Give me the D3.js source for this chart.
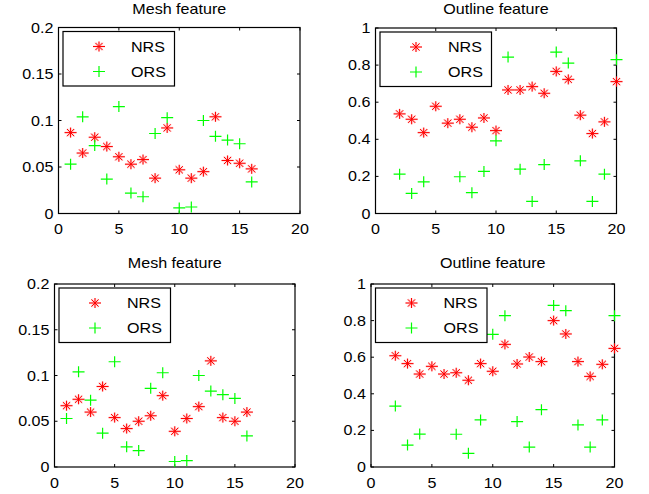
<!DOCTYPE html>
<html>
<head>
<meta charset="utf-8">
<script src="https://cdn.jsdelivr.net/npm/d3@7"></script>
<style>
  body { margin: 0; background: #fff; }
  text { font-family: "Liberation Sans", Arial, Helvetica, sans-serif; fill: #000; }
</style>
</head>
<body>
<script>
// values
const meshX = [1, 2, 3, 4, 5, 6, 7, 8, 9, 10, 11, 12, 13, 14, 15, 16];
const meshNrsTop = [0.087, 0.065, 0.082, 0.072, 0.061, 0.053, 0.058, 0.038, 0.092, 0.047, 0.038, 0.045, 0.104, 0.057, 0.054, 0.048];
const meshNrsBottom = [0.067, 0.074, 0.060, 0.088, 0.054, 0.042, 0.050, 0.056, 0.078, 0.039, 0.053, 0.066, 0.116, 0.054, 0.050, 0.060];
const meshOrs = [0.053, 0.104, 0.073, 0.037, 0.115, 0.022, 0.018, 0.086, 0.103, 0.006, 0.007, 0.100, 0.083, 0.079, 0.075, 0.034];

const outlineX = [2, 3, 4, 5, 6, 7, 8, 9, 10, 11, 12, 13, 14, 15, 16, 17, 18, 19, 20];
const outlineNrsTop = [0.537, 0.508, 0.436, 0.578, 0.487, 0.508, 0.465, 0.515, 0.447, 0.666, 0.666, 0.684, 0.648, 0.766, 0.723, 0.530, 0.431, 0.494, 0.711];
const outlineOrsTop = [0.212, 0.108, 0.171, null, null, 0.198, 0.112, 0.227, 0.392, 0.843, 0.239, 0.065, 0.264, 0.870, 0.811, 0.284, 0.065, 0.212, 0.829];
const outlineNrsBottom = [0.608, 0.565, 0.508, 0.550, 0.508, 0.515, 0.474, 0.565, 0.523, 0.670, 0.563, 0.601, 0.576, 0.800, 0.727, 0.576, 0.495, 0.561, 0.648];
const outlineOrsBottom = [0.333, 0.120, 0.180, null, null, 0.179, 0.075, 0.257, 0.725, 0.827, 0.248, 0.109, 0.313, 0.883, 0.854, 0.230, 0.109, 0.257, 0.827];

const xTicks = [0, 5, 10, 15, 20];
const meshTicks = [0, 0.05, 0.1, 0.15, 0.2];
const outlineTicks = [0, 0.2, 0.4, 0.6, 0.8, 1];
const seriesNames = ["NRS", "ORS"];

const W = 649, H = 494;
const red = "#ff0000", green = "#00ff00";

const svg = d3.select("body").append("svg")
    .attr("width", W)
    .attr("height", H);

const panels = [
  { title: "Mesh feature", x0: 58.5, x1: 300, y0: 27.5, y1: 213.5, titleY: 14,
    yMax: 0.2, yTicks: meshTicks, xs: meshX, nrs: meshNrsTop, ors: meshOrs },
  { title: "Outline feature", x0: 375.5, x1: 616.5, y0: 28, y1: 213.5, titleY: 14,
    yMax: 1, yTicks: outlineTicks, xs: outlineX, nrs: outlineNrsTop, ors: outlineOrsTop },
  { title: "Mesh feature", x0: 54.5, x1: 295, y0: 284, y1: 467, titleY: 268,
    yMax: 0.2, yTicks: meshTicks, xs: meshX, nrs: meshNrsBottom, ors: meshOrs },
  { title: "Outline feature", x0: 371, x1: 614.5, y0: 284, y1: 467, titleY: 268,
    yMax: 1, yTicks: outlineTicks, xs: outlineX, nrs: outlineNrsBottom, ors: outlineOrsBottom }
];

const fmt = d => String(+d.toFixed(2));

// the reference's Helvetica is a bit wider than it is tall
function label(g, x, y, str, anchor) {
  g.append("text")
    .attr("transform", `translate(${x},${y}) scale(1.15,1)`)
    .attr("text-anchor", anchor || "start")
    .attr("font-size", 14)
    .text(str);
}

// MATLAB style markers
function star(g) {
  const d = "M-6,0H6M0,-5V5M-3.6,-3.6L3.6,3.6M-3.6,3.6L3.6,-3.6";
  g.append("path").attr("d", d).attr("stroke", "#ff9c9c").attr("stroke-width", 2.2).attr("fill", "none").attr("opacity", 0.45);
  g.append("path").attr("d", d).attr("stroke", red).attr("stroke-width", 1).attr("fill", "none");
}
function plus(g) {
  g.append("path").attr("d", "M-6,0H6M0,-5.5V5.5")
    .attr("stroke", green).attr("stroke-width", 1.2).attr("fill", "none");
}

panels.forEach(p => {
  const x = d3.scaleLinear().domain([0, 20]).range([p.x0, p.x1]);
  const y = d3.scaleLinear().domain([0, p.yMax]).range([p.y1, p.y0]);
  const g = svg.append("g");

  // ticks, inward on all four sides
  xTicks.forEach(t => {
    g.append("line").attr("x1", x(t)).attr("x2", x(t)).attr("y1", p.y1).attr("y2", p.y1 - 3).attr("stroke", "#000");
    g.append("line").attr("x1", x(t)).attr("x2", x(t)).attr("y1", p.y0).attr("y2", p.y0 + 3).attr("stroke", "#000");
    label(g, x(t), p.y1 + 20.5, fmt(t), "middle");
  });
  p.yTicks.forEach(t => {
    g.append("line").attr("x1", p.x0).attr("x2", p.x0 + 3).attr("y1", y(t)).attr("y2", y(t)).attr("stroke", "#000");
    g.append("line").attr("x1", p.x1).attr("x2", p.x1 - 3).attr("y1", y(t)).attr("y2", y(t)).attr("stroke", "#000");
    label(g, p.x0 - 5, y(t) + 5, fmt(t), "end");
  });

  g.append("rect")
    .attr("x", p.x0).attr("y", p.y0)
    .attr("width", p.x1 - p.x0).attr("height", p.y1 - p.y0)
    .attr("fill", "none").attr("stroke", "#000").attr("stroke-width", 1.2);

  label(g, (p.x0 + p.x1) / 2, p.titleY, p.title, "middle");

  // points
  p.xs.forEach((xv, i) => {
    const v = p.nrs[i];
    if (v != null) star(g.append("g").attr("transform", `translate(${x(xv)},${y(v)})`));
  });
  p.xs.forEach((xv, i) => {
    const v = p.ors[i];
    if (v != null) plus(g.append("g").attr("transform", `translate(${x(xv)},${y(v)})`));
  });

  // legend
  const lx = p.x0 + 4.5, ly = p.y0 + 4;
  const leg = g.append("g").attr("transform", `translate(${lx},${ly})`);
  leg.append("rect").attr("width", 111.5).attr("height", 54.5)
    .attr("fill", "#fff").attr("stroke", "#000").attr("stroke-width", 1.2);
  seriesNames.forEach((name, i) => {
    const cy = 15 + i * 25;
    const m = leg.append("g").attr("transform", `translate(36,${cy})`);
    if (i === 0) star(m); else plus(m);
    label(leg, 68, cy + 5, name);
  });
});
</script>
</body>
</html>
